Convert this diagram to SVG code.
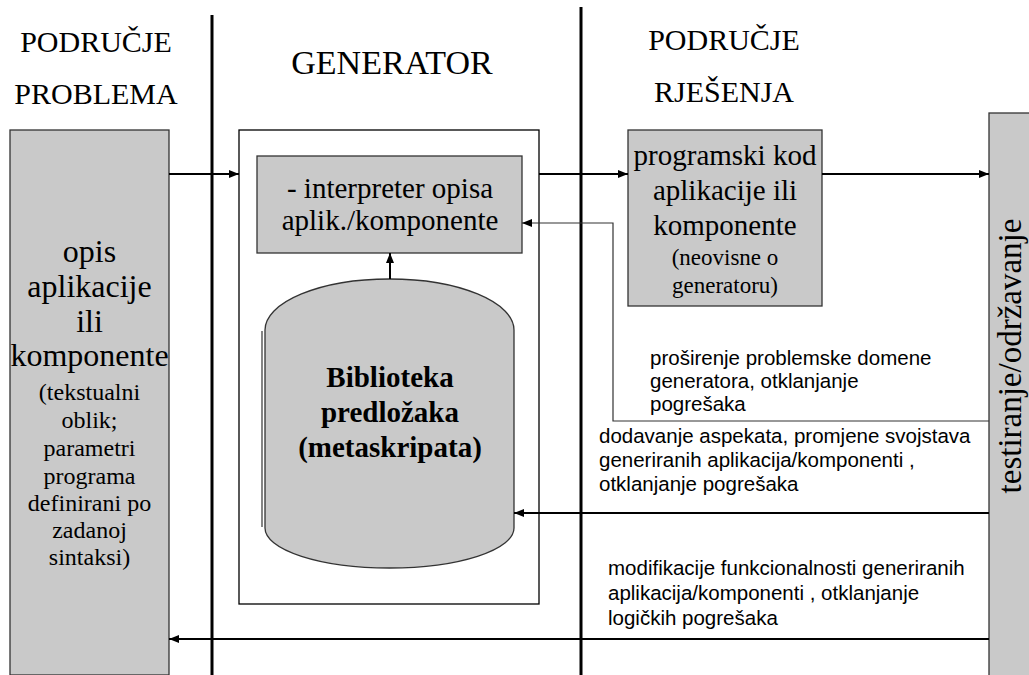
<svg xmlns="http://www.w3.org/2000/svg" width="1029" height="675" viewBox="0 0 1029 675">
<style>
.serif{font-family:"Liberation Serif","Times New Roman",serif;fill:#000}
.sans{font-family:"Liberation Sans",Arial,sans-serif;fill:#000;font-size:20.5px}
.box{fill:#c9c9c9;stroke:#333;stroke-width:1.3}
.wire{stroke:#000;stroke-width:2;fill:none}
.thin{stroke:#333;stroke-width:1.2;fill:none}
.sep{stroke:#000;stroke-width:3}
</style>
<defs>
<marker id="ah" viewBox="0 0 10 10" refX="10" refY="5" markerWidth="10" markerHeight="10" markerUnits="userSpaceOnUse" orient="auto">
<path d="M0,1 L10,5 L0,9 Z" fill="#000"/>
</marker>
</defs>
<rect width="1029" height="675" fill="#fff"/>

<g id="separators">
<line class="sep" x1="212" y1="15" x2="212" y2="675"/>
<line class="sep" x1="581" y1="7" x2="581" y2="675"/>
</g>

<g id="headings" class="serif" text-anchor="middle" font-size="30">
<text x="96" y="52">PODRUČJE</text>
<text x="96" y="104">PROBLEMA</text>
<text x="392" y="74" font-size="34">GENERATOR</text>
<text x="724" y="50">PODRUČJE</text>
<text x="724" y="102">RJEŠENJA</text>
</g>

<g id="problem">
<rect class="box" x="10" y="130" width="159" height="545"/>
<g class="serif" text-anchor="middle">
<text x="89.5" y="262" font-size="32">opis</text>
<text x="89.5" y="297" font-size="32">aplikacije</text>
<text x="89.5" y="332" font-size="32">ili</text>
<text x="89.5" y="366" font-size="32">komponente</text>
<text x="89.5" y="400" font-size="24">(tekstualni</text>
<text x="89.5" y="428" font-size="24">oblik;</text>
<text x="89.5" y="456" font-size="24">parametri</text>
<text x="89.5" y="484" font-size="24">programa</text>
<text x="89.5" y="511" font-size="24">definirani po</text>
<text x="89.5" y="538" font-size="24">zadanoj</text>
<text x="89.5" y="565" font-size="24">sintaksi)</text>
</g>
</g>

<g id="generator">
<rect x="239" y="130" width="300" height="474" fill="#fff" stroke="#000" stroke-width="1.3"/>
</g>

<g id="interpreter">
<rect class="box" x="257" y="156" width="265" height="97"/>
<text class="serif" x="390" y="198" font-size="29" text-anchor="middle">- interpreter opisa</text>
<text class="serif" x="390" y="230" font-size="29" text-anchor="middle">aplik./komponente</text>
</g>

<g id="library">
<path class="box" d="M265,330 A124.5,51 0 0 1 514,330 L514,528 A124.5,40 0 0 1 265,528 Z"/>
<line x1="262" y1="331" x2="262" y2="527" stroke="#333" stroke-width="1.2"/>
<g class="serif" font-weight="bold" font-size="29" text-anchor="middle">
<text x="390" y="387">Biblioteka</text>
<text x="390" y="422">predložaka</text>
<text x="390" y="457">(metaskripata)</text>
</g>
</g>

<g id="code">
<rect class="box" x="628" y="130" width="194" height="176"/>
<g class="serif" text-anchor="middle">
<text x="725" y="165" font-size="29">programski kod</text>
<text x="725" y="200" font-size="29">aplikacije ili</text>
<text x="725" y="235" font-size="29">komponente</text>
<text x="725" y="265" font-size="23">(neovisne o</text>
<text x="725" y="293" font-size="23">generatoru)</text>
</g>
</g>

<g id="testing">
<rect class="box" x="989" y="113" width="45" height="565"/>
<text class="serif" font-size="33" text-anchor="middle" transform="translate(1021,356) rotate(-90)">testiranje/održavanje</text>
</g>

<g id="connectors">
<line class="wire" x1="169" y1="174" x2="239" y2="174" marker-end="url(#ah)"/>
<line class="wire" x1="539" y1="174" x2="628" y2="174" marker-end="url(#ah)"/>
<line class="wire" x1="822" y1="174" x2="989" y2="174" marker-end="url(#ah)"/>
<line class="wire" x1="390" y1="279" x2="390" y2="253" marker-end="url(#ah)"/>
<path class="thin" d="M989,421 H613 V223 H522" marker-end="url(#ah)"/>
<line class="wire" x1="989" y1="513" x2="514" y2="513" marker-end="url(#ah)"/>
<line class="wire" x1="989" y1="639" x2="169" y2="639" marker-end="url(#ah)"/>
</g>

<g id="labels" class="sans">
<text x="650" y="365">proširenje problemske domene</text>
<text x="650" y="388">generatora, otklanjanje</text>
<text x="650" y="411">pogrešaka</text>
<text x="599" y="443">dodavanje aspekata, promjene svojstava</text>
<text x="599" y="467">generiranih aplikacija/komponenti ,</text>
<text x="599" y="491">otklanjanje pogrešaka</text>
<text x="608" y="575">modifikacije funkcionalnosti generiranih</text>
<text x="608" y="600">aplikacija/komponenti , otklanjanje</text>
<text x="608" y="625">logičkih pogrešaka</text>
</g>
</svg>
